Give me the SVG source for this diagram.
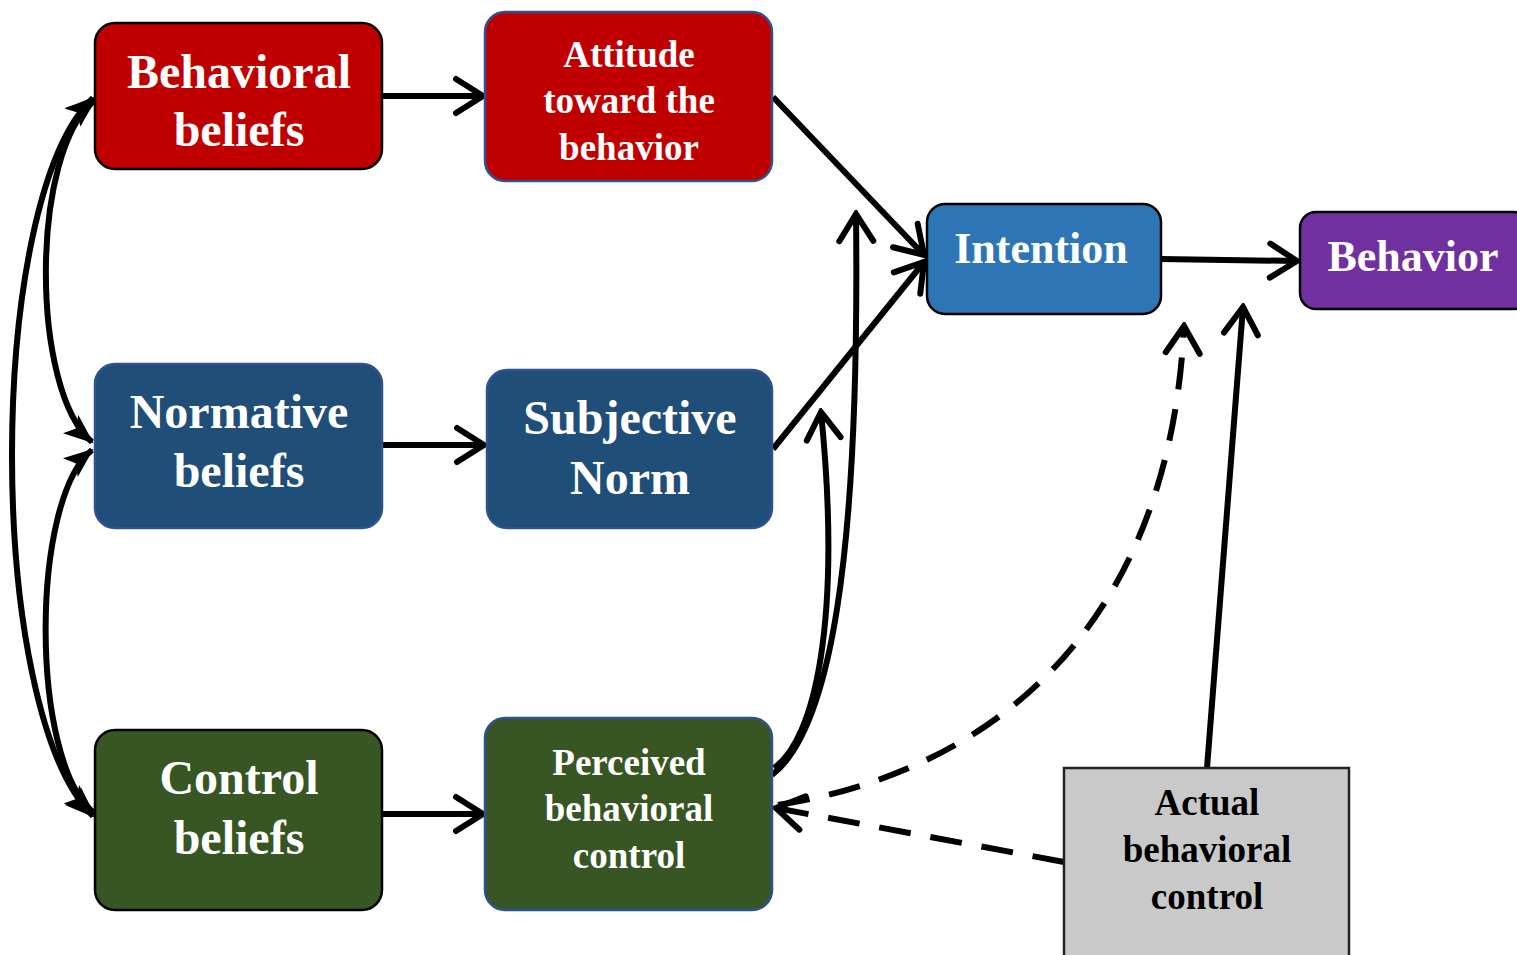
<svg xmlns="http://www.w3.org/2000/svg" width="1517" height="955" viewBox="0 0 1517 955">
<style>
.box{stroke-width:2.5}
.t{font-family:"Liberation Serif","Times New Roman",serif;font-weight:bold;fill:#fff;text-anchor:middle}
.c{fill:none;stroke:#000;stroke-width:6}
.d{fill:none;stroke:#000;stroke-width:6;stroke-dasharray:32 20}
</style>
<defs>
<marker id="open" markerUnits="userSpaceOnUse" markerWidth="36" markerHeight="42" viewBox="0 0 36 42" refX="32" refY="21" orient="auto">
<path d="M5,4 L32,21 L5,38" fill="none" stroke="#000" stroke-width="6" stroke-linecap="round" stroke-linejoin="miter"/>
</marker>
<marker id="fill" markerUnits="userSpaceOnUse" markerWidth="30" markerHeight="24" viewBox="0 0 30 24" refX="28" refY="12" orient="auto-start-reverse">
<path d="M0,0 L30,12 L0,24 L7,12 Z" fill="#000"/>
</marker>
</defs>

<g id="connectors">
<path class="c" d="M95,100 C30,150 30,390 92,442" marker-start="url(#fill)" marker-end="url(#fill)"/>
<path class="c" d="M92,450 C30,500 30,760 93,812" marker-start="url(#fill)" marker-end="url(#fill)"/>
<path class="c" d="M93,98 C-15,200 -15,710 93,816" marker-start="url(#fill)" marker-end="url(#fill)"/>
<line class="c" x1="382" y1="96" x2="483" y2="96" marker-end="url(#open)"/>
<line class="c" x1="382" y1="445" x2="484" y2="445" marker-end="url(#open)"/>
<line class="c" x1="382" y1="814" x2="483" y2="814" marker-end="url(#open)"/>
<line class="c" x1="773" y1="97" x2="924" y2="255" marker-end="url(#open)"/>
<line class="c" x1="773" y1="449" x2="924" y2="262" marker-end="url(#open)"/>
<path class="c" d="M772,775 C830,730 860,560 856,214" marker-end="url(#open)"/>
<path class="c" d="M774,768 C815,740 842,620 821,412" marker-end="url(#open)"/>
<line class="c" x1="1161" y1="259" x2="1297" y2="261" marker-end="url(#open)"/>
<line class="c" x1="1207" y1="768" x2="1243" y2="307" marker-end="url(#open)"/>
<path class="d" d="M778,805 C1000,770 1170,620 1184,326" marker-end="url(#open)"/>
<line class="d" x1="1064" y1="862" x2="776" y2="808" marker-end="url(#open)"/>
</g>

<g id="behavioral-beliefs">
<rect class="box" x="95" y="23" width="287" height="146" rx="20" fill="#C00000" stroke="#000"/>
<text class="t" x="239" y="88" font-size="48">Behavioral</text>
<text class="t" x="239" y="146" font-size="48">beliefs</text>
</g>
<g id="attitude">
<rect class="box" x="485" y="12" width="287" height="169" rx="20" fill="#C00000" stroke="#2F528F"/>
<text class="t" x="629" y="67" font-size="37">Attitude</text>
<text class="t" x="629" y="113" font-size="37">toward the</text>
<text class="t" x="629" y="160" font-size="37">behavior</text>
</g>
<g id="normative-beliefs">
<rect class="box" x="95" y="364" width="287" height="164" rx="20" fill="#1F4E79" stroke="#2F528F"/>
<text class="t" x="239" y="428" font-size="48">Normative</text>
<text class="t" x="239" y="487" font-size="48">beliefs</text>
</g>
<g id="subjective-norm">
<rect class="box" x="487" y="370" width="285" height="158" rx="20" fill="#1F4E79" stroke="#2F528F"/>
<text class="t" x="630" y="434" font-size="48">Subjective</text>
<text class="t" x="630" y="494" font-size="48">Norm</text>
</g>
<g id="control-beliefs">
<rect class="box" x="95" y="730" width="287" height="180" rx="20" fill="#375623" stroke="#000"/>
<text class="t" x="239" y="794" font-size="48">Control</text>
<text class="t" x="239" y="854" font-size="48">beliefs</text>
</g>
<g id="pbc">
<rect class="box" x="485" y="718" width="287" height="192" rx="20" fill="#375623" stroke="#2F528F"/>
<text class="t" x="629" y="775" font-size="37">Perceived</text>
<text class="t" x="629" y="821" font-size="37">behavioral</text>
<text class="t" x="629" y="868" font-size="37">control</text>
</g>
<g id="intention">
<rect class="box" x="927" y="204" width="234" height="110" rx="18" fill="#2E75B6" stroke="#000"/>
<text class="t" x="1041" y="263" font-size="44">Intention</text>
</g>
<g id="behavior">
<rect class="box" x="1300" y="212" width="230" height="97" rx="16" fill="#7030A0" stroke="#000"/>
<text class="t" x="1413" y="271" font-size="44">Behavior</text>
</g>
<g id="actual">
<rect class="box" x="1064" y="768" width="285" height="200" fill="#C9C9C9" stroke="#222"/>
<text class="t" x="1207" y="815" font-size="37" style="fill:#000">Actual</text>
<text class="t" x="1207" y="862" font-size="37" style="fill:#000">behavioral</text>
<text class="t" x="1207" y="909" font-size="37" style="fill:#000">control</text>
</g>
</svg>
